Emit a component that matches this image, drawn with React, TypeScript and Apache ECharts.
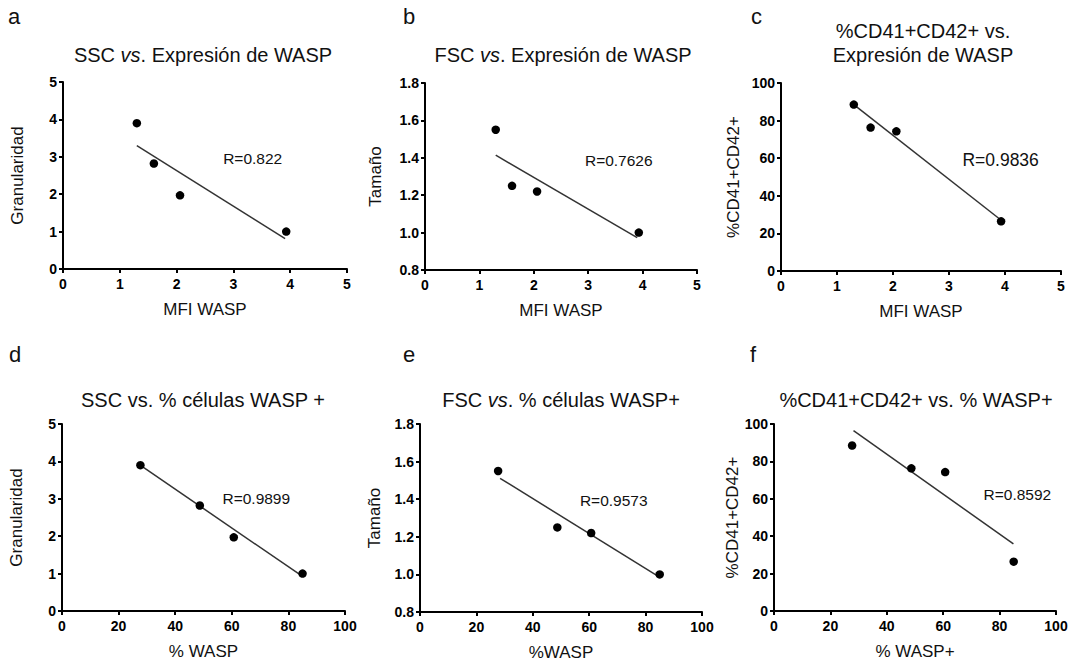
import React, { useEffect, useRef } from "react";
import * as echarts from "echarts";

const FONT = "'Liberation Sans', Arial, Helvetica, sans-serif";

// ---- data ----
const mfiWasp = [1.3, 1.6, 2.06, 3.93];
const pctWasp = [27.7, 48.7, 60.7, 85.0];
const granularidad = [3.9, 2.82, 1.97, 1.0];
const tamano = [1.55, 1.25, 1.22, 1.0];
const cd41cd42 = [88.5, 76.3, 74.3, 26.4];

// fitted lines as drawn: [x, y] start and end
const fitA = [[1.3, 3.3], [3.91, 0.81]];
const fitB = [[1.3, 1.414], [3.9, 0.973]];
const fitC = [[1.3, 88.5], [3.95, 26.6]];
const fitD = [[28.4, 3.86], [84.1, 0.97]];
const fitE = [[28.4, 1.511], [84.5, 0.99]];
const fitF = [[28.2, 96.4], [84.9, 35.9]];

const rTexts = ["R=0.822", "R=0.7626", "R=0.9836", "R=0.9899", "R=0.9573", "R=0.8592"];
// where each R text starts (left edge, vertical middle), in data units
const rPos = [[2.82, 2.96], [2.94, 1.387], [3.24, 58.9], [56.7, 3.0], [56.7, 1.394], [74.3, 62.5]];

const letters = ["a", "b", "c", "d", "e", "f"];
const xNames = ["MFI WASP", "MFI WASP", "MFI WASP", "% WASP", "%WASP", "% WASP+"];
const yNames = ["Granularidad", "Tamaño", "%CD41+CD42+", "Granularidad", "Tamaño", "%CD41+CD42+"];

// ---- layout ----
const grids = [
  { left: 63, top: 82, width: 284, height: 187 },
  { left: 425, top: 83, width: 272, height: 187 },
  { left: 781, top: 83, width: 280, height: 188 },
  { left: 62, top: 424, width: 283, height: 187 },
  { left: 420, top: 424, width: 282, height: 188 },
  { left: 774, top: 424, width: 282, height: 187 },
];
const yNameGaps = [37, 41, 39, 37, 37, 33];
const rFont = [15.5, 15.5, 17.5, 15.5, 15.5, 15.5];

export default function App() {
  const ref = useRef<HTMLDivElement>(null);
  useEffect(() => {
    if (!ref.current) return;
    const chart = echarts.init(ref.current, undefined, { renderer: "svg" });

    const panels = [
      { xs: mfiWasp, ys: granularidad, fit: fitA, xMax: 5, xInt: 1, yMin: 0, yMax: 5, yInt: 1, dec: 0 },
      { xs: mfiWasp, ys: tamano, fit: fitB, xMax: 5, xInt: 1, yMin: 0.8, yMax: 1.8, yInt: 0.2, dec: 1 },
      { xs: mfiWasp, ys: cd41cd42, fit: fitC, xMax: 5, xInt: 1, yMin: 0, yMax: 100, yInt: 20, dec: 0 },
      { xs: pctWasp, ys: granularidad, fit: fitD, xMax: 100, xInt: 20, yMin: 0, yMax: 5, yInt: 1, dec: 0 },
      { xs: pctWasp, ys: tamano, fit: fitE, xMax: 100, xInt: 20, yMin: 0.8, yMax: 1.8, yInt: 0.2, dec: 1 },
      { xs: pctWasp, ys: cd41cd42, fit: fitF, xMax: 100, xInt: 20, yMin: 0, yMax: 100, yInt: 20, dec: 0 },
    ];

    const labelStyle = {
      fontFamily: FONT,
      fontSize: 14,
      fontWeight: "bold",
      color: "#000",
    };

    const axisCommon = () => ({
      axisLine: { show: true, onZero: false, lineStyle: { color: "#000", width: 2 } },
      axisTick: { show: true, length: 4, lineStyle: { color: "#000", width: 2 } },
      splitLine: { show: false },
      nameTextStyle: { fontFamily: FONT, fontSize: 17, color: "#111" },
    });

    const xAxis = panels.map((p, i) => ({
      type: "value",
      gridIndex: i,
      min: 0,
      max: p.xMax,
      interval: p.xInt,
      name: xNames[i],
      nameLocation: "middle",
      nameGap: 32,
      ...axisCommon(),
      axisLabel: { margin: 8, ...labelStyle },
    }));

    const yAxis = panels.map((p, i) => ({
      type: "value",
      gridIndex: i,
      min: p.yMin,
      max: p.yMax,
      interval: p.yInt,
      name: yNames[i],
      nameLocation: "middle",
      nameGap: yNameGaps[i],
      ...axisCommon(),
      axisLabel: {
        margin: 6,
        ...labelStyle,
        formatter: (v: number) => v.toFixed(p.dec),
      },
    }));

    const series: any[] = [];
    panels.forEach((p, i) => {
      series.push({
        type: "scatter",
        xAxisIndex: i,
        yAxisIndex: i,
        symbol: "circle",
        symbolSize: 8.5,
        itemStyle: { color: "#000", opacity: 1 },
        data: p.xs.map((x, j) => [x, p.ys[j]]),
        z: 3,
      });
      series.push({
        type: "line",
        xAxisIndex: i,
        yAxisIndex: i,
        symbol: "none",
        lineStyle: { color: "#333", width: 1.5 },
        data: p.fit,
        z: 2,
      });
      series.push({
        type: "scatter",
        xAxisIndex: i,
        yAxisIndex: i,
        symbolSize: 0,
        silent: true,
        itemStyle: { opacity: 1 },
        data: [rPos[i]],
        label: {
          show: true,
          position: "right",
          distance: 0,
          formatter: rTexts[i],
          fontFamily: FONT,
          fontSize: rFont[i],
          color: "#111",
          opacity: 1,
        },
      });
    });

    const tStyle = (size: number, italic = false) => ({
      fontFamily: FONT,
      fontSize: size,
      fontStyle: italic ? "italic" : "normal",
      fill: "#111",
    });

    const titleEl = (text: string, x: number, y: number) => ({
      type: "text",
      x,
      y,
      style: {
        text,
        ...tStyle(20),
        rich: { n: tStyle(20), i: tStyle(20, true) },
        align: "center",
        verticalAlign: "middle",
      },
    });

    const letterPos = [[8, 16], [403, 16], [751, 16], [9, 354], [403, 354], [750, 354]];
    const graphic: any[] = letters.map((l, i) => ({
      type: "text",
      x: letterPos[i][0],
      y: letterPos[i][1],
      style: { text: l, ...tStyle(22), align: "left", verticalAlign: "middle" },
    }));
    graphic.push(titleEl("{n|SSC }{i|vs}{n|. Expresión de WASP}", 203, 54.8));
    graphic.push(titleEl("{n|FSC }{i|vs}{n|. Expresión de WASP}", 563, 54.8));
    graphic.push(titleEl("{n|%CD41+CD42+ vs.}", 923, 30.8));
    graphic.push(titleEl("{n|Expresión de WASP}", 923, 54.8));
    graphic.push(titleEl("{n|SSC vs. % células WASP +}", 203, 400));
    graphic.push(titleEl("{n|FSC }{i|vs}{n|. % células WASP+}", 561, 400));
    graphic.push(titleEl("{n|%CD41+CD42+ vs. % WASP+}", 916, 400));

    chart.setOption({
      animation: false,
      backgroundColor: "#fff",
      grid: grids.map((g) => ({ ...g, containLabel: false })),
      xAxis,
      yAxis,
      series,
      graphic,
    });
    return () => chart.dispose();
  }, []);
  return (
    <div
      ref={ref}
      style={{ position: "fixed", left: 0, top: 0, width: 1074, height: 662, background: "#fff" }}
    />
  );
}
